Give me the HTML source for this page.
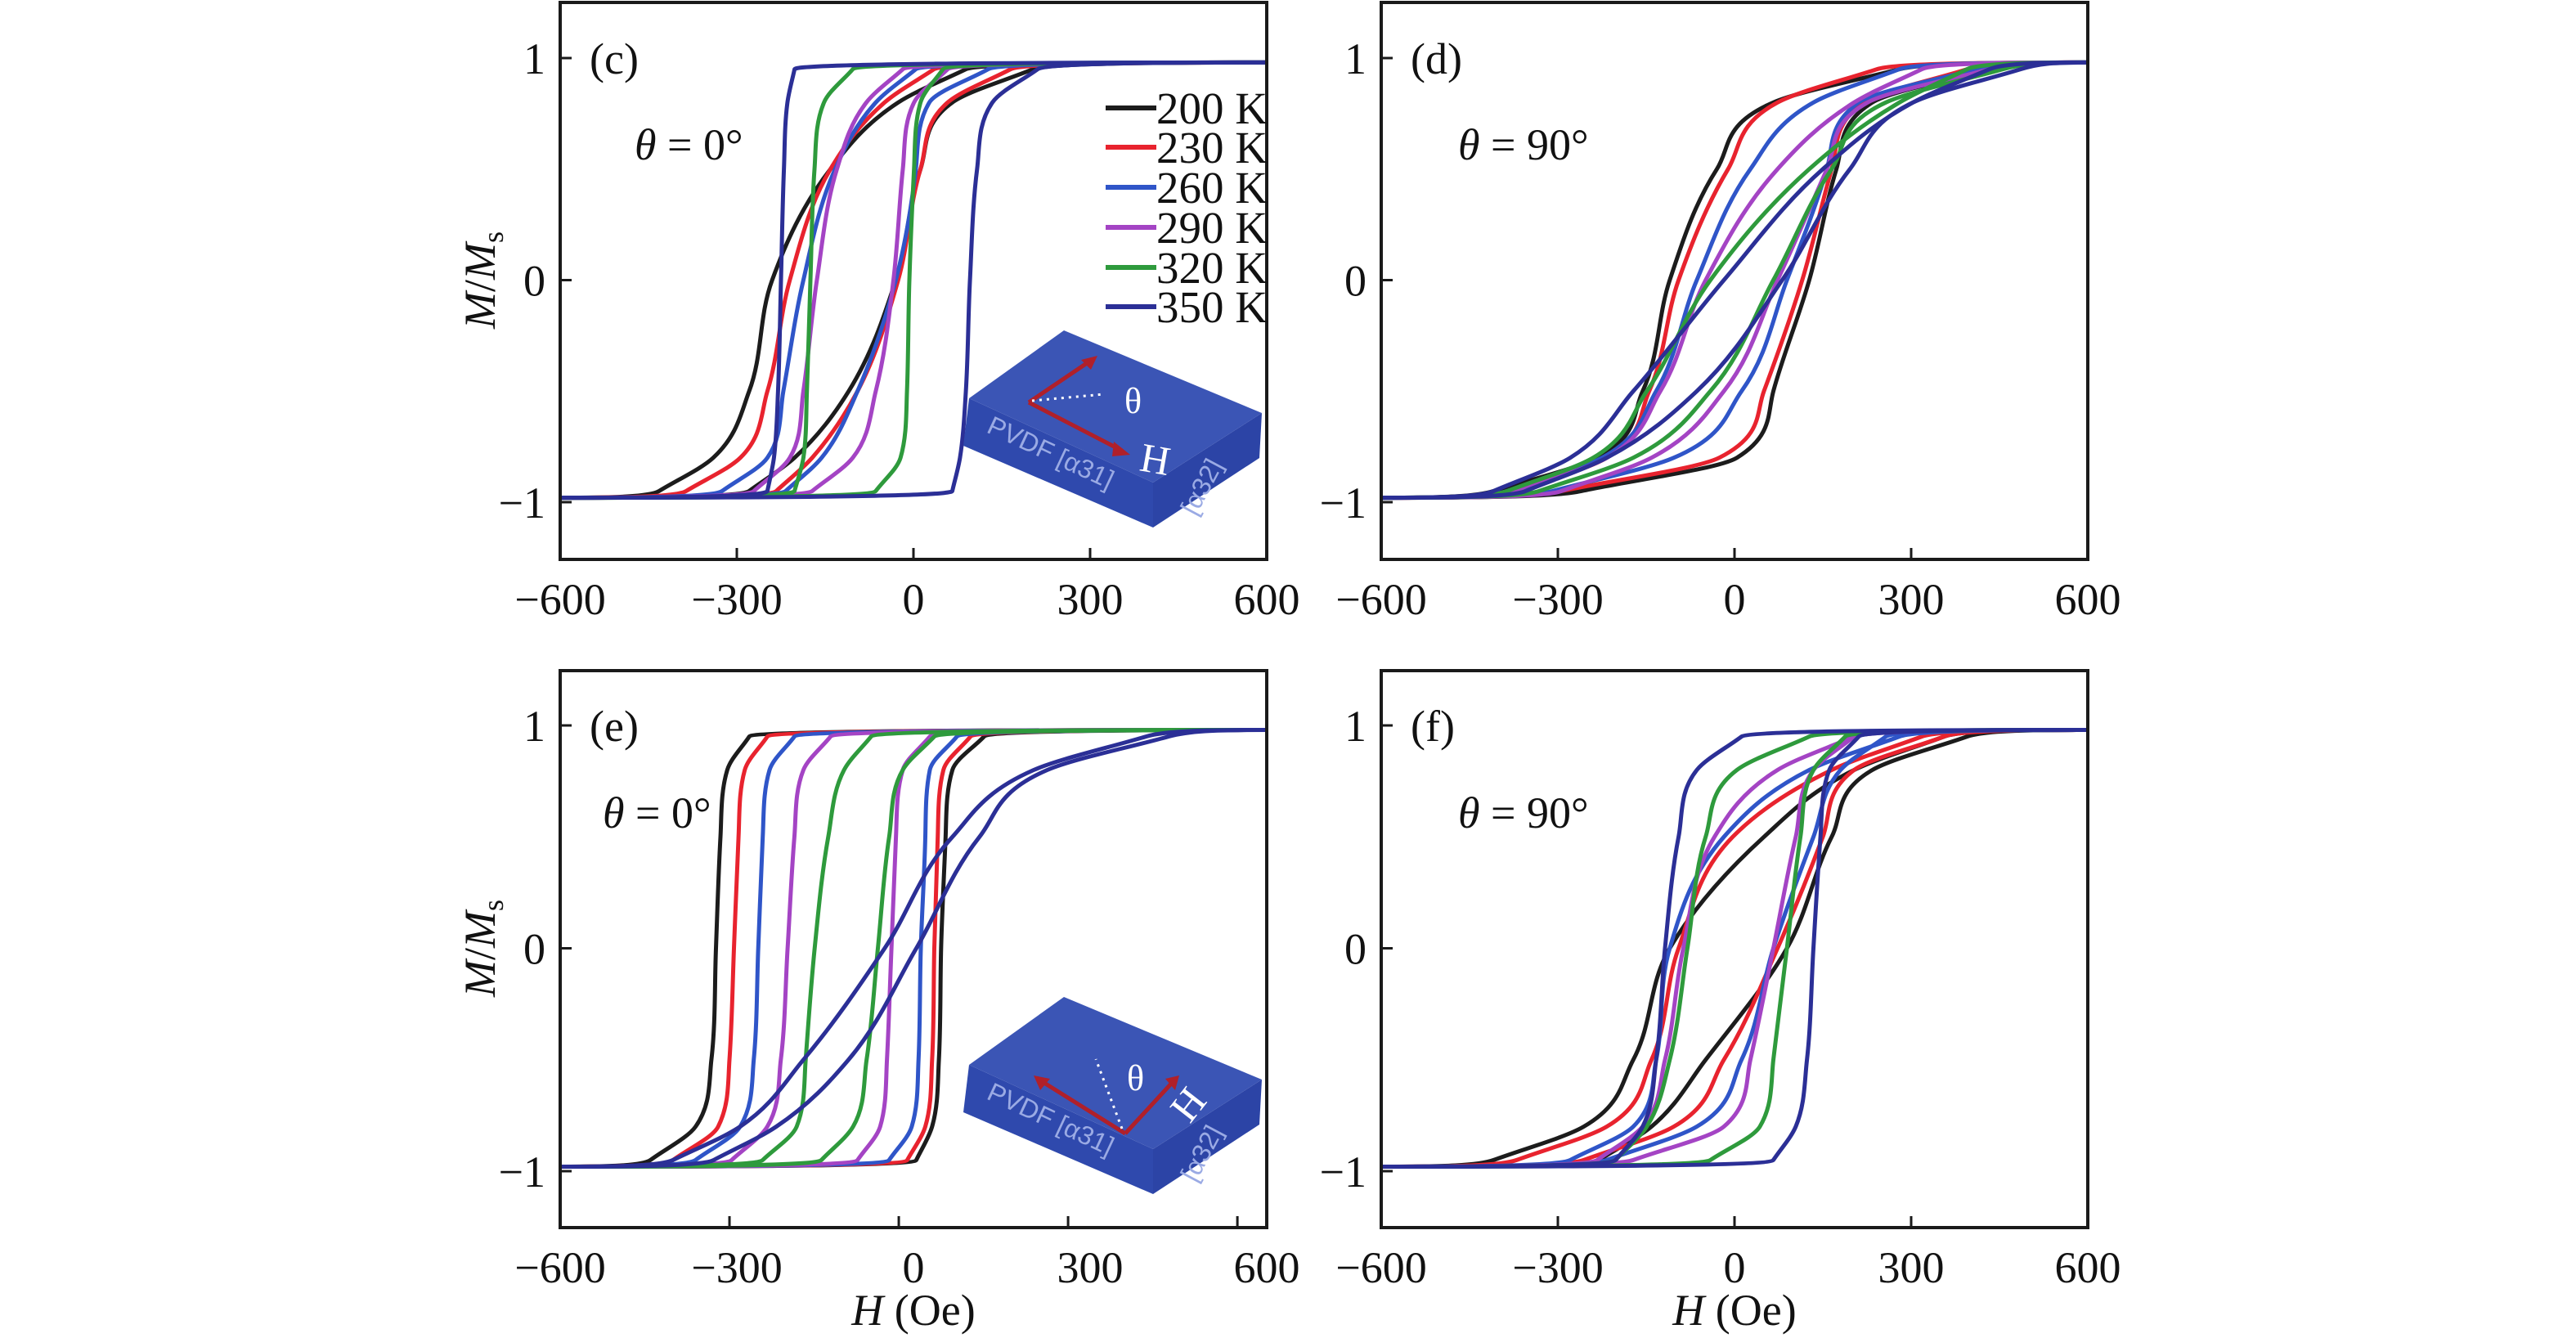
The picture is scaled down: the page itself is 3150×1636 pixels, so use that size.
<!DOCTYPE html>
<html><head><meta charset="utf-8"><style>
html,body{margin:0;padding:0;background:#fff}
svg{display:block}
text{font-family:"Liberation Serif","DejaVu Serif",serif;fill:#111}
</style></head><body>
<svg id="fig" width="3150" height="1636" viewBox="0 0 3150 1636" xmlns="http://www.w3.org/2000/svg"></svg>
<script>
// ---- data ----
const temps = ["200 K","230 K","260 K","290 K","320 K","350 K"];
const colors = ["#1c1c1c","#e8232e","#2f55c8","#a444c4","#2e9a3c","#2b2f96"];
const descLevels = [0.95,0.8,0.5,0,-0.5,-0.8,-0.95];
const ascLevels = [-0.95,-0.8,-0.5,0,0.5,0.8,0.95];
const satM = 0.98;
const xTicks = [-600,-300,0,300,600];
const yTicks = [-1,0,1];
// panel (c)
const cDesc = [[89,-26,-141,-240,-279,-340,-432],[35,-49,-141,-210,-248,-294,-386],[4,-64,-133,-187,-221,-248,-325],[-18,-80,-130,-164,-187,-210,-271],[-103,-152,-168,-175,-181,-187,-202],[-202,-214,-220,-225,-230,-237,-248]];
const cAsc = [[-279,-202,-110,-30,12,66,203],[-233,-172,-95,-26,12,58,165],[-217,-156,-95,-30,4,27,127],[-172,-103,-64,-34,-18,1,58],[-64,-22,-11,-7,1,12,50],[66,79,89,96,108,134,211]];
// panel (d)
const dDesc = [[280,66,-30,-110,-156,-233,-409],[242,73,-11,-95,-145,-217,-370],[280,134,27,-64,-133,-225,-386],[318,203,73,-49,-126,-217,-370],[395,280,127,-41,-149,-240,-386],[433,303,150,-18,-172,-279,-409]];
const dAsc = [[-260,4,66,127,173,234,433],[-294,-26,50,115,165,219,395],[-309,-103,12,89,157,211,410],[-294,-141,-18,73,157,226,433],[-332,-172,-41,66,165,257,456],[-355,-217,-64,81,196,303,486]];
// panel (e)
const eDesc = [[-265,-304,-316,-324,-332,-360,-440],[-233,-273,-284,-292,-300,-320,-400],[-185,-229,-241,-249,-257,-281,-360],[-121,-169,-185,-197,-209,-233,-296],[-49,-97,-125,-149,-165,-181,-241],[438,239,95,-25,-169,-281,-400]];
const eAsc = [[31,59,71,75,83,95,151],[15,47,59,63,69,79,127],[-17,23,35,39,47,55,103],[-73,-33,-21,-13,-5,7,55],[-137,-81,-57,-37,-17,7,63],[-328,-217,-89,31,143,263,478]];
// panel (f)
const fDesc = [[356,203,50,-110,-172,-256,-409],[318,165,-3,-95,-141,-217,-370],[280,127,-18,-110,-133,-172,-279],[203,73,-34,-87,-118,-156,-233],[127,4,-49,-80,-110,-149,-202],[12,-64,-95,-118,-133,-156,-202]];
const fAsc = [[-230,-141,-49,89,165,234,395],[-256,-103,-18,73,150,203,356],[-217,-64,12,66,134,180,257],[-172,-18,27,66,104,134,203],[-41,43,66,89,112,134,188],[66,104,123,134,146,161,211]];

const NS="http://www.w3.org/2000/svg";
const svg=document.getElementById('fig');
function mk(tag,attrs,parent){const e=document.createElementNS(NS,tag);for(const k in attrs)e.setAttribute(k,attrs[k]);(parent||svg).appendChild(e);return e;}

const panels=[
 {id:'c',x0:685,x1:1549,yT:3,yB:684,y1:71,ym1:614,hmin:-600,hmax:600,desc:cDesc,asc:cAsc,theta:'0°',lx:776,ly:176,ylab:true},
 {id:'d',x0:1689,x1:2553,yT:3,yB:684,y1:71,ym1:614,hmin:-600,hmax:600,desc:dDesc,asc:dAsc,theta:'90°',lx:1783,ly:176,ylab:false},
 {id:'e',x0:685,x1:1549,yT:820,yB:1501,y1:887,ym1:1432,hmin:-600,hmax:652,desc:eDesc,asc:eAsc,theta:'0°',lx:737,ly:993,ylab:true,xtitle:true},
 {id:'f',x0:1689,x1:2553,yT:820,yB:1501,y1:887,ym1:1432,hmin:-600,hmax:600,desc:fDesc,asc:fAsc,theta:'90°',lx:1783,ly:993,ylab:false,xtitle:true}
];

// monotone cubic slopes (Fritsch-Carlson) for H as function of M
function slopes(M,H){
  const n=M.length,d=[],m=new Array(n);
  for(let i=0;i<n-1;i++)d.push((H[i+1]-H[i])/(M[i+1]-M[i]));
  m[0]=d[0];m[n-1]=d[n-2];
  for(let i=1;i<n-1;i++){m[i]=(d[i-1]*d[i]<=0)?0:(d[i-1]+d[i])/2;}
  for(let i=0;i<n-1;i++){
    if(d[i]===0){m[i]=0;m[i+1]=0;continue;}
    const a=m[i]/d[i],b=m[i+1]/d[i],s=a*a+b*b;
    if(s>9){const t=3/Math.sqrt(s);m[i]=t*a*d[i];m[i+1]=t*b*d[i];}
  }
  return m;
}
function branchPath(M,H,p,xs,ys){
  const m=slopes(M,H);
  const n=M.length;
  // bottom saturation approach
  const d0=0.025;
  const c2b=[Math.max(p.hmin+20,H[0]-m[0]*d0),M[0]-d0];
  const c1b=[H[0]-0.45*(H[0]-p.hmin),-satM];
  let d='M'+xs(p.hmin).toFixed(1)+','+ys(-satM).toFixed(1)+
    ' C'+xs(c1b[0]).toFixed(1)+','+ys(c1b[1]).toFixed(1)+' '+xs(c2b[0]).toFixed(1)+','+ys(c2b[1]).toFixed(1)+' '+xs(H[0]).toFixed(1)+','+ys(M[0]).toFixed(1);
  for(let i=0;i<n-1;i++){
    const h=M[i+1]-M[i];
    const c1=[H[i]+m[i]*h/3,M[i]+h/3],c2=[H[i+1]-m[i+1]*h/3,M[i+1]-h/3];
    d+=' C'+xs(c1[0]).toFixed(1)+','+ys(c1[1]).toFixed(1)+' '+xs(c2[0]).toFixed(1)+','+ys(c2[1]).toFixed(1)+' '+xs(H[i+1]).toFixed(1)+','+ys(M[i+1]).toFixed(1);
  }
  const k=n-1;
  const c1t=[Math.min(p.hmax-20,H[k]+m[k]*d0),M[k]+d0];
  const c2t=[H[k]+0.45*(p.hmax-H[k]),satM];
  d+=' C'+xs(c1t[0]).toFixed(1)+','+ys(c1t[1]).toFixed(1)+' '+xs(c2t[0]).toFixed(1)+','+ys(c2t[1]).toFixed(1)+' '+xs(p.hmax).toFixed(1)+','+ys(satM).toFixed(1);
  return d;
}

panels.forEach(p=>{
  const g=mk('g',{});
  
  
  const xs=h=>p.x0+(h-p.hmin)/(p.hmax-p.hmin)*(p.x1-p.x0);
  const xl=h=>p.x0+(h+600)/1200*(p.x1-p.x0);
  const ys=m=>p.y1+(1-m)/2*(p.ym1-p.y1);
  const clip=mk('clipPath',{id:'clip'+p.id},g);
  mk('rect',{x:p.x0,y:p.yT,width:p.x1-p.x0,height:p.yB-p.yT},clip);
  const cg=mk('g',{'clip-path':'url(#clip'+p.id+')'},g);
  for(let s=0;s<temps.length;s++){
    const dM=descLevels.slice().reverse(), dH=p.desc[s].slice().reverse();
    const l1=mk('path',{d:branchPath(dM,dH,p,xs,ys),fill:'none',stroke:colors[s],'stroke-width':5,'stroke-linejoin':'round'},cg);
    
    
    const l2=mk('path',{d:branchPath(ascLevels,p.asc[s],p,xs,ys),fill:'none',stroke:colors[s],'stroke-width':5,'stroke-linejoin':'round'},cg);
    
    
  }
  const fr=mk('rect',{x:p.x0,y:p.yT,width:p.x1-p.x0,height:p.yB-p.yT,fill:'none',stroke:'#1a1a1a','stroke-width':4},g);
  
  
  xTicks.forEach(t=>{
    mk('line',{x1:xs(t),x2:xs(t),y1:p.yB,y2:p.yB-14,stroke:'#1a1a1a','stroke-width':3},g);
    const tx=mk('text',{x:xl(t),y:p.yB+67,'font-size':54,'text-anchor':'middle'},g);
    tx.textContent=(t<0?'\u2212':'')+Math.abs(t);
    
    
  });
  yTicks.forEach(t=>{
    mk('line',{x1:p.x0,x2:p.x0+14,y1:ys(t),y2:ys(t),stroke:'#1a1a1a','stroke-width':3},g);
    const ty=mk('text',{x:p.x0-18,y:ys(t)+19,'font-size':54,'text-anchor':'end'},g);
    ty.textContent=(t<0?'\u2212':'')+Math.abs(t);
    
    
  });
  const pl=mk('text',{x:p.x0+36,y:p.y1+19,'font-size':54},g);
  pl.textContent='('+p.id+')';
  
  
  const th=mk('text',{x:p.lx,y:p.ly+19,'font-size':54},g);
  th.innerHTML='<tspan font-style="italic">θ</tspan> = '+p.theta;
  
  
  if(p.ylab){
    const yl=mk('text',{transform:'translate(605,'+ys(0)+') rotate(-90)','font-size':54,'text-anchor':'middle'},g);
    yl.innerHTML='<tspan font-style="italic">M</tspan>/<tspan font-style="italic">M</tspan><tspan font-size="36" dy="10">s</tspan>';
    
    
  }
  if(p.xtitle){
    const xt=mk('text',{x:(xl(0)),y:1620,'font-size':54,'text-anchor':'middle'},g);
    xt.innerHTML='<tspan font-style="italic">H</tspan> (Oe)';
    
    
  }
});

// legend in panel c
const lg=mk('g',{});


const legendY=[132,180,229,278,327,375];
temps.forEach((t,i)=>{
  const e=mk('g',{},lg);
  
  
  mk('line',{x1:1352,x2:1414,y1:legendY[i],y2:legendY[i],stroke:colors[i],'stroke-width':6},e);
  const tx=mk('text',{x:1414,y:legendY[i]+19,'font-size':55},e);
  tx.textContent=t;
});

// insets
function inset(dy,mode){
  const g=mk('g',{transform:'translate(0,'+dy+')'});
  
  
  mk('polygon',{points:'1185,487 1410,590 1410,645 1178,545',fill:'#2f49ad'},g);
  mk('polygon',{points:'1410,590 1543,505 1540,560 1410,645',fill:'#2c44a6'},g);
  mk('polygon',{points:'1301,404 1543,505 1410,590 1185,487',fill:'#3b55b5'},g);
  const t1=mk('text',{transform:'translate(1205,528) rotate(25)','font-size':32},g);
  t1.textContent='PVDF [α31]';
  t1.setAttribute('style','fill:#9aaae4;font-family:"Liberation Sans",sans-serif');
  const t2=mk('text',{transform:'translate(1462,632) rotate(-62)','font-size':32},g);
  t2.textContent='[α32]';
  t2.setAttribute('style','fill:#9aaae4;font-family:"Liberation Sans",sans-serif');
  if(mode==='c'){
    mk('path',{d:'M1258,492 L1335,440 M1258,492 L1372,551',stroke:'#b0202a','stroke-width':5,fill:'none'},g);
    mk('polygon',{points:'1342,435 1322,440 1334,452',fill:'#b0202a'},g);
    mk('polygon',{points:'1382,556 1362,540 1360,558',fill:'#b0202a'},g);
    mk('line',{x1:1262,y1:490,x2:1350,y2:482,stroke:'#fff','stroke-width':3,'stroke-dasharray':'3 6'},g);
    const a=mk('text',{x:1375,y:505,'font-size':44},g);a.textContent='θ';a.setAttribute('style','fill:#fff');
    const h=mk('text',{transform:'translate(1392,575) rotate(10)','font-size':50},g);h.textContent='H';h.setAttribute('style','fill:#fff');
  }else{
    mk('path',{d:'M1376,571 L1272,506 M1376,571 L1434,508',stroke:'#b0202a','stroke-width':5,fill:'none'},g);
    mk('polygon',{points:'1264,500 1272,518 1284,504',fill:'#b0202a'},g);
    mk('polygon',{points:'1442,500 1425,504 1437,518',fill:'#b0202a'},g);
    mk('line',{x1:1372,y1:565,x2:1340,y2:480,stroke:'#fff','stroke-width':3,'stroke-dasharray':'3 6'},g);
    const a=mk('text',{x:1378,y:518,'font-size':44},g);a.textContent='θ';a.setAttribute('style','fill:#fff');
    const h=mk('text',{transform:'translate(1455,560) rotate(-52)','font-size':50},g);h.textContent='H';h.setAttribute('style','fill:#fff');
  }
}
inset(0,'c');
inset(815,'e');
</script>
</body></html>
